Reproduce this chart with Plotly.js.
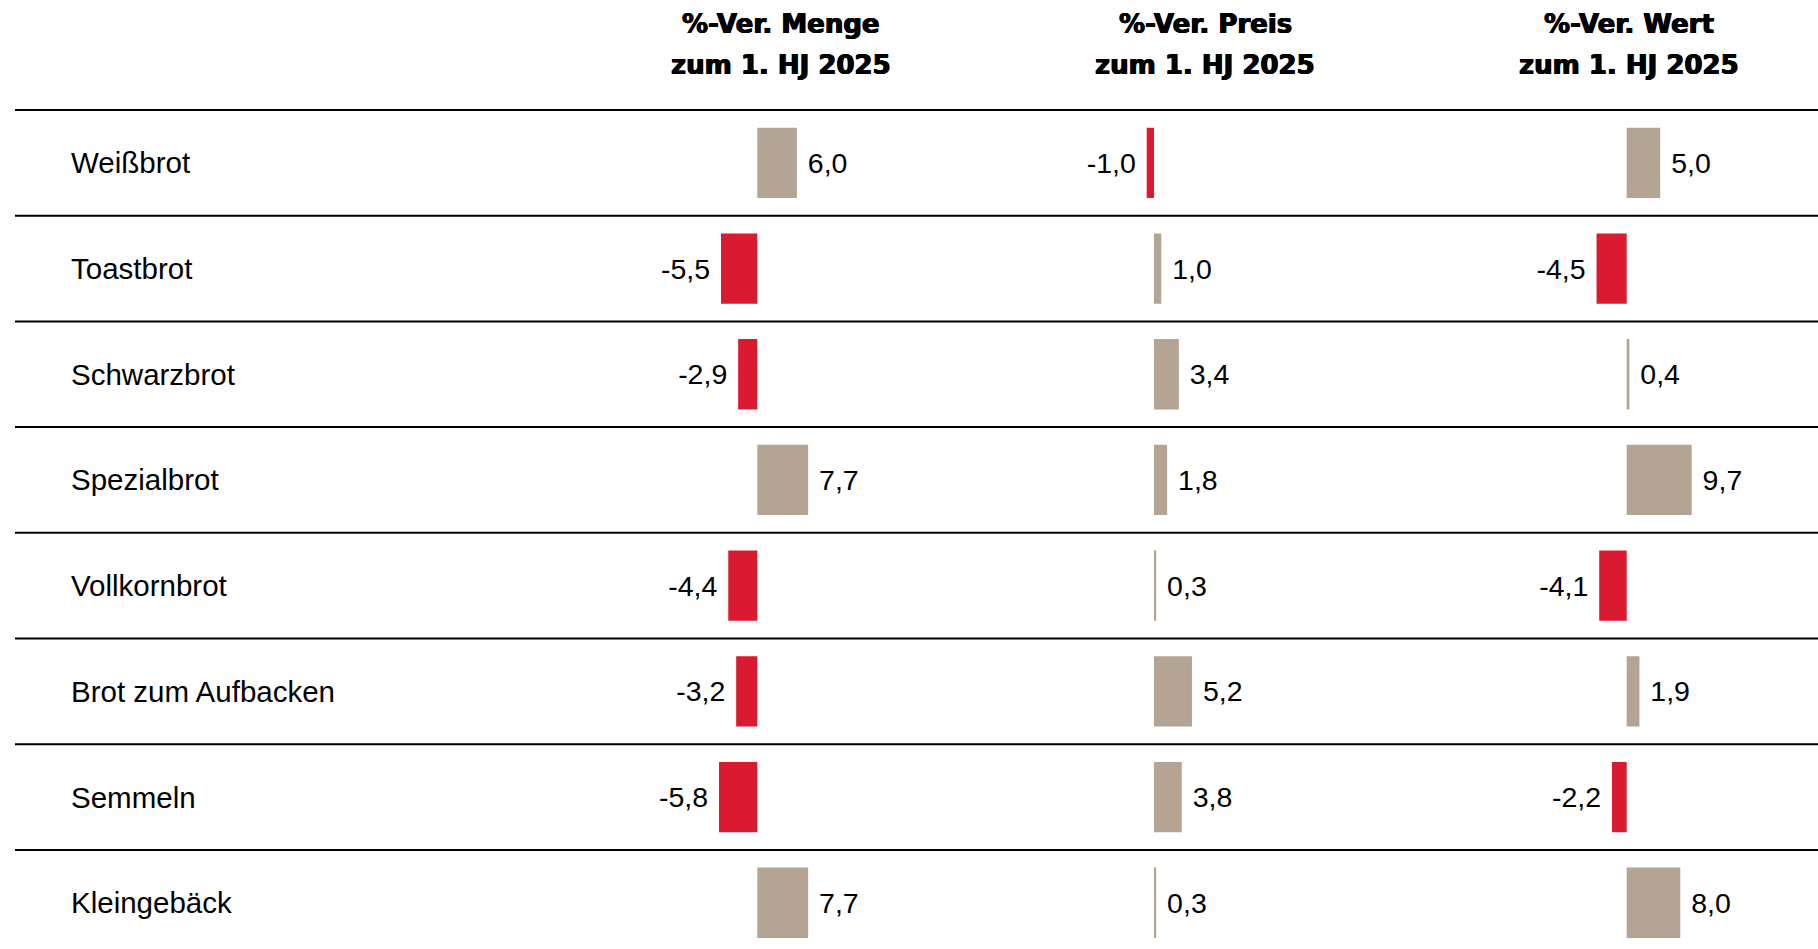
<!DOCTYPE html>
<html>
<head>
<meta charset="utf-8">
<script src="https://cdn.plot.ly/plotly-3.0.1.min.js"></script>
<style>
  html, body { margin: 0; padding: 0; background: #fff; }
  #chart { width: 1818px; height: 949px; }
</style>
</head>
<body>
<div id="chart"></div>
<script>
// ---- data ----
const categories = ["Weißbrot", "Toastbrot", "Schwarzbrot", "Spezialbrot", "Vollkornbrot", "Brot zum Aufbacken", "Semmeln", "Kleingebäck"];
const menge = [6.0, -5.5, -2.9, 7.7, -4.4, -3.2, -5.8, 7.7];
const preis = [-1.0, 1.0, 3.4, 1.8, 0.3, 5.2, 3.8, 0.3];
const wert  = [5.0, -4.5, 0.4, 9.7, -4.1, 1.9, -2.2, 8.0];
const headerLine1 = ["%-Ver. Menge", "%-Ver. Preis", "%-Ver. Wert"];
const headerLine2 = ["zum 1. HJ 2025", "zum 1. HJ 2025", "zum 1. HJ 2025"];

// ---- styling / layout helpers ----
const W = 1818, H = 949;
const POS = "#B4A494", NEG = "#DA1A31";
const NBSP = "\u00A0";
const fmt = v => v.toFixed(1).replace(".", ",");
const label = v => v < 0 ? fmt(v) + NBSP : NBSP + fmt(v);

// panel geometry: pixel of zero and pixels per unit
const panels = [
  { vals: menge, zero: 757.3, ppu: 6.6, head: 781 },
  { vals: preis, zero: 1154.0, ppu: 7.3, head: 1205 },
  { vals: wert,  zero: 1626.7, ppu: 6.7, head: 1629 }
];
const RLO = -10, RHI = 12;

const traces = panels.map((p, i) => ({
  type: "bar",
  orientation: "h",
  y: categories,
  x: p.vals,
  xaxis: i === 0 ? "x" : "x" + (i + 1),
  yaxis: "y",
  width: 0.665,
  marker: { color: p.vals.map(v => v < 0 ? NEG : POS), line: { width: 0 } },
  text: p.vals.map(label),
  textposition: "outside",
  constraintext: "none",
  cliponaxis: false,
  textfont: { family: "Liberation Sans, Arial, sans-serif", size: 28.5, color: "#000" },
  hoverinfo: "skip"
}));

const layout = {
  width: W, height: H,
  margin: { l: 0, r: 0, t: 0, b: 0, pad: 0 },
  paper_bgcolor: "#fff", plot_bgcolor: "rgba(0,0,0,0)",
  showlegend: false,
  separators: ",.",
  yaxis: {
    type: "category",
    categoryarray: categories,
    range: [7.4375, -1.5407],
    visible: false, fixedrange: true
  },
  shapes: [],
  annotations: []
};

const headFont = {
  family: "DejaVu Sans, sans-serif", size: 26, color: "#000", weight: "bold",
  shadow: "0.6px 0 0 #000, -0.6px 0 0 #000, 0 0.4px 0 #000"
};

panels.forEach((p, i) => {
  const key = i === 0 ? "xaxis" : "xaxis" + (i + 1);
  layout[key] = {
    range: [RLO, RHI],
    domain: [(p.zero + RLO * p.ppu) / W, (p.zero + RHI * p.ppu) / W],
    anchor: "y",
    visible: false, fixedrange: true
  };
  layout.annotations.push({
    xref: "paper", yref: "paper", x: p.head / W, y: 1 - 24 / H,
    xanchor: "center", yanchor: "middle", showarrow: false,
    text: headerLine1[i], font: headFont
  });
  layout.annotations.push({
    xref: "paper", yref: "paper", x: p.head / W, y: 1 - 65 / H,
    xanchor: "center", yanchor: "middle", showarrow: false,
    text: headerLine2[i], font: headFont
  });
});

categories.forEach((c, i) => {
  layout.annotations.push({
    xref: "paper", yref: "y", x: 69 / W, y: c,
    xanchor: "left", yanchor: "middle", showarrow: false,
    text: c,
    font: { family: "Liberation Sans, Arial, sans-serif", size: 29.5, color: "#000" }
  });
  layout.shapes.push({
    type: "line", xref: "paper", yref: "y",
    x0: 15 / W, x1: 1, y0: i - 0.5, y1: i - 0.5,
    line: { color: "#000", width: 2 }
  });
});

Plotly.newPlot("chart", traces, layout, { staticPlot: true, displayModeBar: false });
</script>
</body>
</html>
